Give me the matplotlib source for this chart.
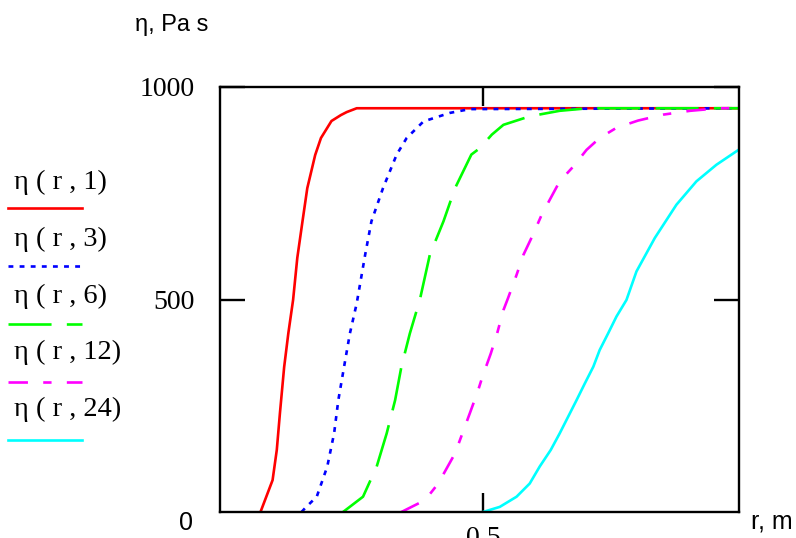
import matplotlib.pyplot as plt
from matplotlib.lines import Line2D

plt.rcParams['lines.scale_dashes'] = False

# values (r in m, eta in Pa s)
r1 = [0.077, 0.100, 0.108, 0.114, 0.122, 0.130, 0.139, 0.147, 0.157, 0.166,
      0.181, 0.192, 0.212, 0.230, 0.241, 0.260, 0.986]
eta1 = [0, 75, 146, 233, 341, 421, 499, 598, 685, 762,
        840, 880, 920, 934, 941, 950, 950]

r3 = [0.155, 0.164, 0.184, 0.204, 0.217, 0.225, 0.236, 0.247, 0.260, 0.276,
      0.288, 0.310, 0.336, 0.355, 0.387, 0.437, 0.475, 0.986]
eta3 = [0, 12, 36, 107, 185, 263, 342, 420, 491, 605,
        684, 762, 841, 880, 919, 939, 948, 950]

r6 = [0.234, 0.272, 0.298, 0.317, 0.333, 0.345, 0.361, 0.380, 0.399, 0.425,
      0.447, 0.478, 0.494, 0.517, 0.539, 0.589, 0.646, 0.700, 0.986]
eta6 = [0, 36, 107, 185, 263, 342, 420, 499, 605, 684,
        762, 841, 856, 888, 911, 931, 944, 950, 950]

r12 = [0.345, 0.390, 0.415, 0.447, 0.461, 0.475, 0.490, 0.499, 0.515, 0.527,
       0.539, 0.548, 0.564, 0.577, 0.595, 0.612, 0.629, 0.646, 0.672, 0.697,
       0.722, 0.754, 0.795, 0.843, 0.894, 0.950, 0.986]
eta12 = [0, 28, 67, 138, 185, 232, 283, 318, 373, 420,
         475, 504, 558, 605, 652, 700, 739, 778, 813, 852,
         880, 904, 921, 935, 944, 950, 950]

r24 = [0.500, 0.532, 0.564, 0.589, 0.608, 0.629, 0.646, 0.662, 0.678, 0.694,
       0.710, 0.722, 0.738, 0.754, 0.773, 0.792, 0.827, 0.868, 0.906, 0.944,
       0.986]
eta24 = [0, 12, 36, 67, 107, 146, 185, 224, 263, 303,
         342, 381, 420, 460, 499, 566, 645, 723, 778, 817,
         852]

labels = ['η ( r , 1)', 'η ( r , 3)', 'η ( r , 6)', 'η ( r , 12)', 'η ( r , 24)']
colors = ['#ff0000', '#0000ff', '#00ff00', '#ff00ff', '#00ffff']
styles = ['-', (0, (3.5, 4.5)), (0, (31, 11)), (0, (14, 11, 6, 11)), '-']

W, H = 796, 538
fig = plt.figure(figsize=(W / 100, H / 100), dpi=100)
ax = fig.add_axes([220 / W, (H - 512) / H, (739 - 220) / W, (512 - 87) / H])

series = [(r1, eta1), (r3, eta3), (r6, eta6), (r12, eta12), (r24, eta24)]
for (r, e), c, ls in zip(series, colors, styles):
    ax.plot(r, e, color=c, ls=ls, lw=1.9)

ax.set_xlim(0, 0.987)
ax.set_ylim(0, 1000)
for s in ax.spines.values():
    s.set_linewidth(1.7)

serif = 'Liberation Serif'
sans = 'Liberation Sans'

ax.set_yticks([500, 1000])
ax.set_yticklabels(['500', '1000'], fontfamily=serif, fontsize=20)
ax.set_xticks([0.5])
ax.set_xticklabels(['0.5'], fontfamily=serif, fontsize=20)
ax.tick_params(axis='y', direction='in', length=18, width=1.7, pad=18,
               left=True, right=True)
ax.tick_params(axis='x', direction='in', length=13.5, width=1.7, pad=10,
               bottom=True, top=True)

fig.text(186 / W, 1 - 523 / H, '0', fontfamily=sans, fontsize=18,
         ha='center', va='center')
fig.text(751 / W, 1 - 521 / H, 'r, m', fontfamily=sans, fontsize=18,
         ha='left', va='center')
fig.text(135 / W, 1 - 25 / H, 'η, Pa s', fontfamily=sans, fontsize=17,
         ha='left', va='center')

# legend drawn by hand, Mathcad style
text_y = [182, 239, 296, 352, 409]
line_y = [208, 266, 324, 382, 440]
for lab, c, ls, ty, ly in zip(labels, colors, styles, text_y, line_y):
    fig.text(14 / W, 1 - ty / H, lab, fontfamily=serif, fontsize=20.5,
             ha='left', va='center')
    fig.add_artist(Line2D([8 / W, 82 / W], [1 - ly / H, 1 - ly / H],
                          transform=fig.transFigure, color=c, ls=ls, lw=1.9))

plt.savefig('out.png', dpi=100)
plt.close('all')
